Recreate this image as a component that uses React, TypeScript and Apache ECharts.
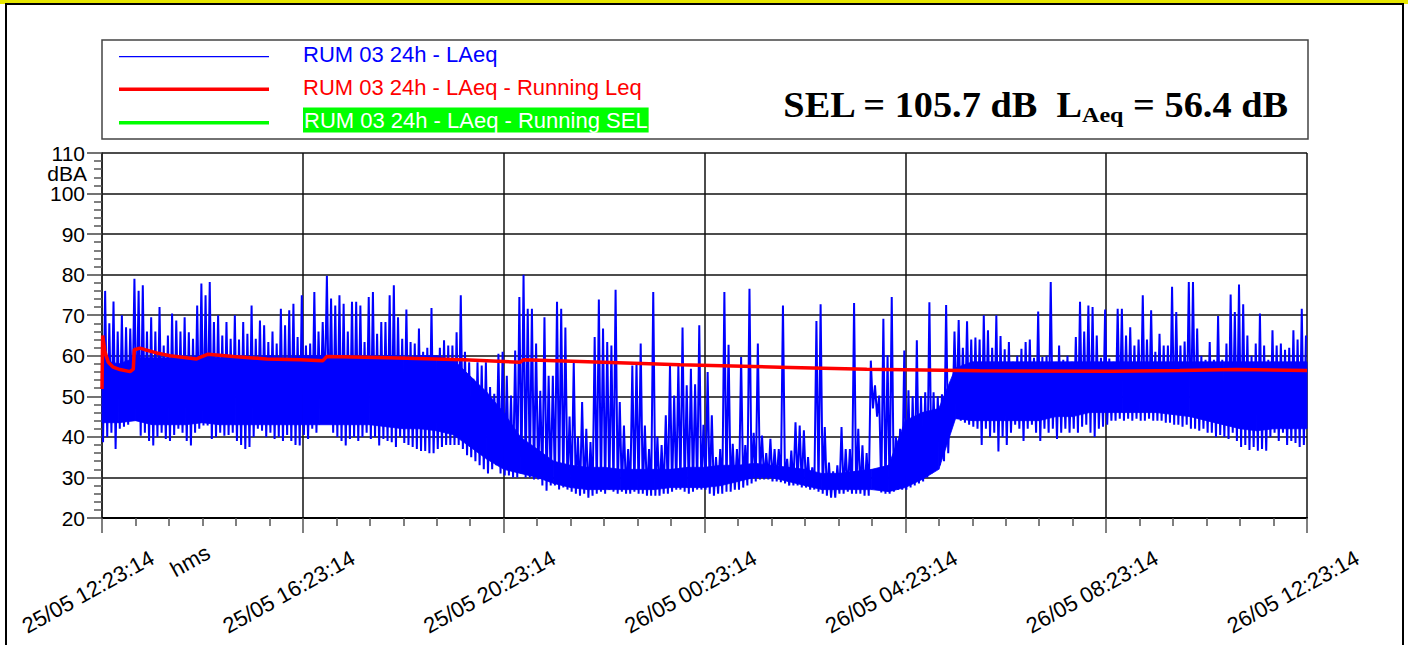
import React, { useEffect, useRef } from "react";
import * as echarts from "echarts";

// X axis: minutes elapsed from 25/05 12:23:14 (24 h), ticks every 4 h
const xTickLabels = [
  "25/05 12:23:14",
  "25/05 16:23:14",
  "25/05 20:23:14",
  "26/05 00:23:14",
  "26/05 04:23:14",
  "26/05 08:23:14",
  "26/05 12:23:14",
];

const legendNames = [
  "RUM 03 24h - LAeq",
  "RUM 03 24h - LAeq - Running Leq",
  "RUM 03 24h - LAeq - Running SEL",
];

// LAeq, lowest value in each 5-minute slot (dBA); one row per hour
const laeqMin = [
  [38.7, 40, 41, 37, 42, 42.5, 43, 47, 44, 40.3, 41, 39],
  [37.9, 40, 41, 39.5, 39, 40.5, 42, 41, 39, 37.9, 41, 42],
  [42.8, 42.8, 39.5, 40, 41, 40.3, 40.5, 41, 39, 38, 37, 37.5],
  [40, 42, 41.5, 40, 41, 39.5, 40, 39, 40.5, 39, 38, 37.9],
  [40.5, 39.5, 42, 41, 47, 50, 45, 41, 40, 39, 37.9, 39.5],
  [40, 39, 40, 41, 39.5, 40, 37.9, 39.5, 39, 38.7, 37.5, 40],
  [38.5, 38, 37.5, 37, 36.5, 36.5, 36, 36, 37, 37.5, 38, 38],
  [38, 38, 37, 35.5, 35, 34, 33, 32, 31, 32, 33, 31],
  [30.5, 30.5, 30, 30, 31, 30, 30, 29.5, 29.5, 28, 26.7, 28],
  [28, 27, 27.5, 27, 26.5, 26, 25.5, 26, 25, 25.5, 26, 26.5],
  [26, 27, 26.5, 26, 26.5, 26, 26, 26.5, 26, 26, 25.5, 25.5],
  [25.5, 25.5, 26, 26, 26.5, 27, 27, 26.5, 26, 26.5, 27, 27],
  [27, 26, 25.5, 26, 26, 26.5, 26.5, 27, 27, 27.5, 28, 28.5],
  [29, 29.5, 29.5, 29.5, 29, 29, 28.8, 28.5, 28, 28, 28, 27.5],
  [27.5, 27, 27, 26.5, 26, 25.5, 25, 25, 26, 26, 26.5, 26],
  [26, 26, 25.5, 25.5, 47, 45, 26.3, 26, 26, 26.5, 27, 27],
  [27, 27.5, 28, 28.5, 29, 30, 31, 32, 33, 34, 36, 44],
  [45.5, 44, 43.5, 43, 42.5, 42, 38, 42, 40, 41, 36.4, 40],
  [38, 41, 43, 42, 39, 42, 43, 41, 39, 42, 41, 42],
  [39.5, 41, 42, 41, 42, 41, 42.5, 43, 41, 40, 42, 42.5],
  [43, 44, 44, 44.5, 44, 44.5, 44, 44.5, 44, 44, 44.5, 44],
  [44, 44, 43.5, 43.5, 43, 43, 42.5, 43, 42, 42, 41.5, 42],
  [41, 41, 40, 40.5, 40, 39.5, 41, 39, 37.5, 38, 36.8, 37.5],
  [36.6, 37, 36.6, 40, 41, 39, 41, 38, 39, 38.5, 37.5, 38],
];

// LAeq, highest value in each 5-minute slot (dBA); one row per hour
const laeqMax = [
  [76, 68, 73.4, 66, 70, 67, 66.7, 79, 76, 77.4, 66, 69.5],
  [66, 72, 62.5, 65, 70.4, 68.7, 66, 69.5, 65.8, 64.2, 72.4, 77.8],
  [74.9, 78.2, 68.3, 70, 65, 68.3, 64.2, 70, 64, 68.3, 65.4, 72.4],
  [64.2, 68.7, 67.5, 63.4, 66, 63, 71.6, 67.5, 71.2, 72.8, 64.6, 74.9],
  [62.5, 63, 75.7, 66, 68.3, 79.7, 74.1, 72.4, 74.9, 72.8, 66, 73.3],
  [73.3, 72.4, 63.4, 74.5, 75.7, 65.4, 68.3, 68.3, 74.9, 77.4, 69.5, 64.2],
  [71.4, 63.4, 63, 66.7, 61, 62, 71.8, 58.4, 62, 63.8, 62.5, 62.5],
  [65.8, 74.9, 61, 58.4, 54.3, 58.4, 57.6, 58.4, 52.3, 50.6, 60.5, 61],
  [55.1, 50.2, 61.3, 74.5, 80, 71.6, 71.6, 63, 51.4, 69.5, 55.1, 55.1],
  [73.3, 71.6, 67, 45, 58.4, 40, 48.6, 42, 38.7, 64.6, 73.9, 66.7],
  [63.4, 62.5, 76.3, 48.6, 42.8, 37, 57.6, 58.4, 63, 42.8, 37, 75.7],
  [40, 38, 45.3, 57.6, 50.2, 57.6, 67, 52.7, 56.8, 53, 67.5, 43],
  [56, 45.3, 35, 37, 75.7, 62.7, 38.3, 37, 59.7, 38, 76.5, 41],
  [63, 40.3, 36, 39.5, 37, 37, 72.4, 34.6, 36.6, 43.6, 42.8, 41.6],
  [35, 32.5, 68.6, 72.7, 42.4, 33.7, 31.5, 33, 42.4, 37, 37, 73],
  [42, 37.9, 36, 58.8, 52.7, 50.2, 69.1, 60.1, 74.5, 40, 42, 61.3],
  [51.5, 50, 63.8, 50, 51, 73.2, 51, 50, 50.5, 72.5, 53, 66],
  [68.8, 62, 68.5, 64, 64.5, 64, 70, 66.3, 62, 70, 64.9, 61.6],
  [63.4, 58.5, 60, 61.7, 63.4, 64, 59.5, 70.9, 59.7, 60, 78.2, 58],
  [62.5, 59, 60, 58.5, 64.6, 73.3, 66, 72.4, 72, 65, 59.5, 71.4],
  [59.3, 58.5, 71.6, 71.6, 65, 67, 62.5, 64, 74.9, 64, 71.2, 61],
  [65.4, 62.5, 62.5, 77, 70.8, 62.5, 63.5, 78.2, 78.2, 66.7, 60, 59],
  [63.4, 59, 69.8, 59, 63, 75.1, 70.8, 77.6, 72.7, 65, 60, 63],
  [70.4, 62.5, 59, 66.3, 62.5, 63, 61.5, 62, 66.3, 64, 71.6, 65],
];

// Dense core of the LAeq trace, every 20 minutes (dBA): lower and upper edge
const coreT = [
  0, 20, 40, 60, 80, 100, 120, 140, 160, 180, 200, 220, 240, 260, 280, 300, 320, 340, 360, 380, 400, 420, 440, 460,
  480, 500, 520, 540, 560, 580, 600, 620, 640, 660, 680, 700, 720, 740, 760, 780, 800, 820, 840, 860, 880, 900, 920,
  940, 960, 980, 1000, 1020, 1040, 1060, 1080, 1100, 1120, 1140, 1160, 1180, 1200, 1220, 1240, 1260, 1280, 1300, 1320,
  1340, 1360, 1380, 1400, 1420, 1440,
];
const coreLo = [
  43.5, 43.5, 44, 43, 43, 43, 43.5, 43, 43, 43, 43, 43, 43, 43, 43, 43, 43, 42.5, 42, 42, 41.5,
  40.5, 37.5, 34.5, 32, 31, 30, 28.5, 27.5, 27, 27,
  27, 27, 27, 27.5, 27.5, 27.5, 28, 29, 30, 30,
  29, 28, 27, 27, 27, 27, 26.5, 27.5, 29.5, 32,
  44.5, 44, 44, 44, 44, 44, 45, 45, 46, 46,
  46, 46, 46, 45.5, 45, 44, 43, 42, 41.5, 42,
  42, 42,
];
const coreHi = [
  59, 58, 59.5, 59.5, 59.5, 59.5, 60, 59.5, 60, 59.5, 60, 59.5, 60, 60, 60, 59.5, 59.5, 60, 59.5, 60, 60,
  59, 55, 51, 46, 40, 37, 34, 33, 32.5, 32.5,
  32, 32, 32, 32, 32.5, 32.5, 33, 33, 33.5, 33,
  32.5, 32, 31, 31, 31.5, 32, 33, 44, 46, 47,
  57, 58.5, 58.5, 58.5, 58.5, 58.5, 58.5, 58.5, 58.5, 58.5,
  58.5, 58.5, 58.5, 58.5, 58.5, 58.5, 58.5, 58.5, 58.5, 58.5,
  58.5, 58.5,
];

// Running Leq (minutes, dBA)
const runT = [
  0, 0.8, 3.6, 7.5, 13.4, 21.5, 33.5, 37.4, 38.6, 45.4, 51.4, 65.3, 81.3, 113, 117, 127, 157, 197, 237, 264,
  268.5, 300, 342, 432, 499.5, 503.5, 571, 690.7, 810, 914, 1049, 1208, 1288, 1356, 1440,
];
const runLeq = [
  51.8, 65.0, 60.9, 58.4, 57.2, 56.6, 56.1, 56.7, 61.5, 61.9, 61.5, 60.7, 60.0, 59.2, 59.6, 60.4, 59.8, 59.2, 59.0,
  58.8, 59.8, 59.7, 59.5, 59.0, 58.4, 59.0, 58.6, 57.8, 57.2, 56.7, 56.3, 56.2, 56.4, 56.6, 56.4,
];

// Running SEL: not drawn within the plotted range
const runSEL: [number, number][] = [];

const SANS = '"Liberation Sans", Arial, sans-serif';
const SERIF = '"Liberation Serif", "Times New Roman", serif';
const BLUE = "#0000ff";

function buildOption() {
  const laeqData: [number, number][] = [];
  laeqMin.forEach((row, h) =>
    row.forEach((lo, j) => {
      const k = h * 12 + j;
      laeqData.push([5 * k + 1.25, lo]);
      laeqData.push([5 * k + 3.75, laeqMax[h][j]]);
    })
  );
  const coreData = coreT.map((t, i) => [t, coreLo[i], coreHi[i]]);
  const leqData = runT.map((t, i) => [t, runLeq[i]]);

  const renderCore = (params: any, api: any) => {
    const i = params.dataIndex;
    if (i >= coreT.length - 1) return null;
    const a = api.coord([coreT[i], coreLo[i]]);
    const b = api.coord([coreT[i], coreHi[i]]);
    const c = api.coord([coreT[i + 1], coreHi[i + 1]]);
    const d = api.coord([coreT[i + 1], coreLo[i + 1]]);
    return {
      type: "polygon",
      shape: { points: [a, b, c, d] },
      style: { fill: BLUE, stroke: BLUE, lineWidth: 0.8 },
      silent: true,
    };
  };

  return {
    animation: false,
    backgroundColor: "#ffffff",
    grid: { left: 102, top: 153, width: 1205, height: 365, containLabel: false },
    xAxis: {
      type: "value",
      min: 0,
      max: 1440,
      interval: 240,
      axisLine: { show: true, onZero: false, lineStyle: { color: "#000", width: 2 } },
      axisTick: { show: true, inside: false, length: 15, lineStyle: { color: "#555", width: 1.5 } },
      minorTick: { show: true, splitNumber: 6, length: 8, lineStyle: { color: "#555", width: 1.5 } },
      splitLine: { show: true, lineStyle: { color: "#111", width: 1.5 } },
      minorSplitLine: { show: false },
      axisLabel: {
        formatter: (v: number) => xTickLabels[Math.round(v / 240)],
        rotate: 29,
        align: "center",
        verticalAlign: "middle",
        margin: 66,
        padding: [0, 32, 0, 0],
        fontSize: 22,
        color: "#000",
        fontFamily: SANS,
        showMinLabel: true,
        showMaxLabel: true,
      },
    },
    yAxis: {
      type: "value",
      min: 20,
      max: 110,
      interval: 10,
      axisLine: { show: true, lineStyle: { color: "#222", width: 1.5 } },
      axisTick: { show: true, inside: false, length: 15, lineStyle: { color: "#444", width: 1.5 } },
      minorTick: { show: true, splitNumber: 5, length: 8, lineStyle: { color: "#555", width: 1.5 } },
      splitLine: { show: true, lineStyle: { color: "#111", width: 1.5 } },
      axisLabel: { fontSize: 21, color: "#000", margin: 17, fontFamily: SANS },
    },
    series: [
      {
        name: "core",
        type: "custom",
        data: coreData,
        encode: { x: 0, y: [1, 2] },
        renderItem: renderCore,
        silent: true,
        z: 1,
      },
      {
        name: legendNames[0],
        type: "line",
        data: laeqData,
        symbol: "none",
        lineStyle: { color: BLUE, width: 2 },
        itemStyle: { color: BLUE },
        z: 2,
      },
      {
        name: legendNames[1],
        type: "line",
        data: leqData,
        symbol: "none",
        lineStyle: { color: "#ff0000", width: 3.5 },
        itemStyle: { color: "#ff0000" },
        z: 3,
      },
      {
        name: legendNames[2],
        type: "line",
        data: runSEL,
        symbol: "none",
        lineStyle: { color: "#00ff00", width: 3.5 },
        itemStyle: { color: "#00ff00" },
        z: 4,
      },
    ],
    graphic: [
      { type: "rect", silent: true, shape: { x: 0, y: 0, width: 1408, height: 4 }, style: { fill: "#e6e600" } },
      {
        type: "rect",
        silent: true,
        shape: { x: 6, y: 4, width: 1397, height: 700 },
        style: { fill: "none", stroke: "#000", lineWidth: 2 },
      },
      {
        type: "rect",
        silent: true,
        shape: { x: 102, y: 40, width: 1206, height: 99 },
        style: { fill: "none", stroke: "#444", lineWidth: 1.5 },
      },
      { type: "line", silent: true, shape: { x1: 119, y1: 56.7, x2: 269, y2: 56.7 }, style: { stroke: BLUE, lineWidth: 1.3 } },
      { type: "line", silent: true, shape: { x1: 119, y1: 89.3, x2: 269, y2: 89.3 }, style: { stroke: "#ff0000", lineWidth: 3.5 } },
      { type: "line", silent: true, shape: { x1: 119, y1: 122.7, x2: 269, y2: 122.7 }, style: { stroke: "#00ff00", lineWidth: 3.5 } },
      {
        type: "text",
        silent: true,
        x: 303,
        y: 54,
        style: { text: legendNames[0], fill: BLUE, fontSize: 22, fontFamily: SANS, align: "left", verticalAlign: "middle", textAlign: "left", textVerticalAlign: "middle" },
      },
      {
        type: "text",
        silent: true,
        x: 303,
        y: 87,
        style: { text: legendNames[1], fill: "#ff0000", fontSize: 22, fontFamily: SANS, align: "left", verticalAlign: "middle", textAlign: "left", textVerticalAlign: "middle" },
      },
      {
        type: "text",
        silent: true,
        x: 303,
        y: 120,
        style: {
          text: legendNames[2],
          fill: "#ffffff",
          fontSize: 22,
          fontFamily: SANS,
          backgroundColor: "#00ff00",
          padding: [2, 1, 1, 1],
          align: "left",
          verticalAlign: "middle",
          textAlign: "left",
          textVerticalAlign: "middle",
        },
      },
      {
        type: "text",
        silent: true,
        x: 1288,
        y: 85,
        scaleX: 1.095,
        style: {
          text: "{m|SEL = 105.7 dB  L}{s|Aeq}{m| = 56.4 dB}",
          align: "right",
          verticalAlign: "top",
          textAlign: "right",
          textVerticalAlign: "top",
          rich: {
            m: { fontSize: 35, fontWeight: "bold", fontFamily: SERIF, fill: "#000", lineHeight: 40, verticalAlign: "middle" },
            s: { fontSize: 22, fontWeight: "bold", fontFamily: SERIF, fill: "#000", lineHeight: 12, verticalAlign: "bottom" },
          },
        },
      },
      {
        type: "text",
        silent: true,
        x: 87,
        y: 173,
        style: { text: "dBA", fill: "#000", fontSize: 21, fontFamily: SANS, align: "right", verticalAlign: "middle", textAlign: "right", textVerticalAlign: "middle" },
      },
      {
        type: "text",
        silent: true,
        x: 190,
        y: 561,
        rotation: (29 * Math.PI) / 180,
        style: { text: "hms", fill: "#000", fontSize: 22, fontFamily: SANS, align: "center", verticalAlign: "middle", textAlign: "center", textVerticalAlign: "middle" },
      },
    ],
  };
}

export default function App() {
  const ref = useRef<HTMLDivElement>(null);
  useEffect(() => {
    if (!ref.current) return;
    const chart = echarts.init(ref.current, undefined, { renderer: "svg" });
    chart.setOption(buildOption() as any);
    return () => chart.dispose();
  }, []);
  return (
    <div
      ref={ref}
      style={{ position: "absolute", left: 0, top: 0, width: 1408, height: 645, background: "#fff" }}
    />
  );
}
